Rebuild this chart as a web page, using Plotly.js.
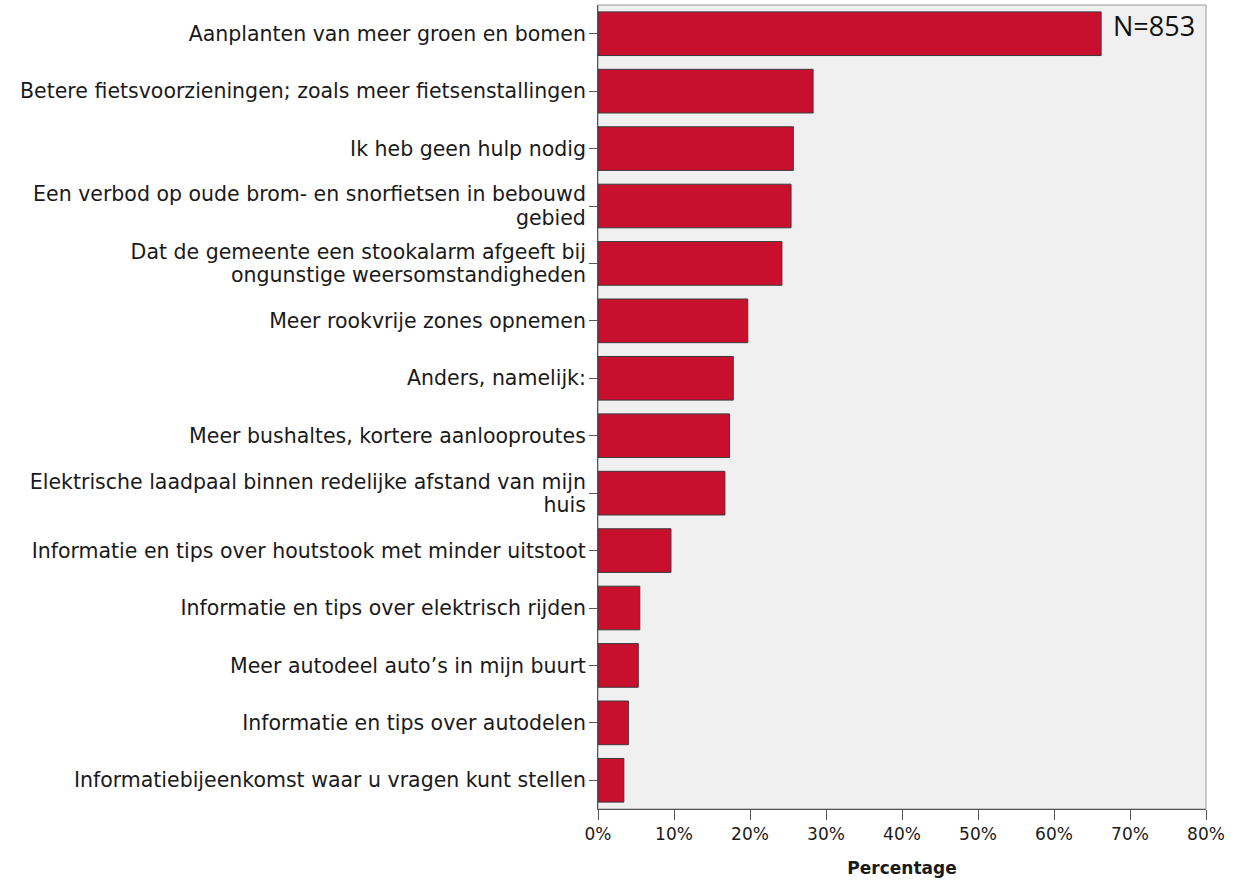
<!DOCTYPE html>
<html>
<head>
<meta charset="utf-8">
<script src="https://cdn.plot.ly/plotly-3.0.1.min.js"></script>
<style>html,body{margin:0;padding:0;background:#fff;}#chart{width:1236px;height:881px;}</style>
</head>
<body>
<div id="chart"></div>
<script>
const categories = [
  "Aanplanten van meer groen en bomen",
  "Betere fietsvoorzieningen; zoals meer fietsenstallingen",
  "Ik heb geen hulp nodig",
  "Een verbod op oude brom- en snorfietsen in bebouwd<br>gebied",
  "Dat de gemeente een stookalarm afgeeft bij<br>ongunstige weersomstandigheden",
  "Meer rookvrije zones opnemen",
  "Anders, namelijk:",
  "Meer bushaltes, kortere aanlooproutes",
  "Elektrische laadpaal binnen redelijke afstand van mijn<br>huis",
  "Informatie en tips over houtstook met minder uitstoot",
  "Informatie en tips over elektrisch rijden",
  "Meer autodeel auto’s in mijn buurt",
  "Informatie en tips over autodelen",
  "Informatiebijeenkomst waar u vragen kunt stellen"
];
const percentages = [66.2, 28.3, 25.7, 25.4, 24.2, 19.7, 17.8, 17.3, 16.7, 9.6, 5.5, 5.3, 4.0, 3.4];
const xTickValues = [0, 10, 20, 30, 40, 50, 60, 70, 80];
const xTickLabels = ["0%", "10%", "20%", "30%", "40%", "50%", "60%", "70%", "80%"];
const noteText = "N=853";

const trace = {
  type: "bar",
  orientation: "h",
  x: percentages,
  y: categories,
  marker: {color: "#C8102E", line: {color: "#3a3a3a", width: 1}},
  hoverinfo: "none"
};

const layout = {
  width: 1236,
  height: 881,
  margin: {l: 598, r: 30, t: 5, b: 72, pad: 0},
  paper_bgcolor: "#ffffff",
  plot_bgcolor: "#F0F0F0",
  bargap: 0.24,
  showlegend: false,
  font: {family: "DejaVu Sans, sans-serif", size: 17, color: "#1a1a1a"},
  xaxis: {
    range: [0, 80],
    tickvals: xTickValues,
    ticktext: xTickLabels,
    ticks: "outside",
    ticklen: 10,
    tickcolor: "#555",
    tickwidth: 1,
    showgrid: false,
    zeroline: false,
    showline: true,
    linecolor: "#555",
    linewidth: 1,
    tickfont: {size: 17, color: "#1a1a1a"},
    title: {text: "<b>Percentage</b>", font: {size: 17, color: "#1a1a1a"}, standoff: 18},
    fixedrange: true
  },
  yaxis: {
    autorange: "reversed",
    ticks: "outside",
    ticklen: 8,
    tickcolor: "#555",
    tickwidth: 1,
    showgrid: false,
    zeroline: false,
    showline: true,
    linecolor: "#555",
    linewidth: 1,
    tickfont: {size: 20.5, color: "#1a1a1a"},
    ticklabelstandoff: -1,
    fixedrange: true
  },
  shapes: [{
    type: "rect", xref: "paper", yref: "paper", x0: 0, x1: 1, y0: 0, y1: 1,
    line: {color: "#999", width: 1}, fillcolor: "rgba(0,0,0,0)", layer: "below"
  }],
  annotations: [{
    text: noteText, xref: "paper", yref: "paper", x: 0.985, y: 0.9995,
    xanchor: "right", yanchor: "top", showarrow: false,
    font: {family: "Open Sans, sans-serif", size: 27, color: "#111"}
  }]
};

const LINE_EM = 1.15;
Plotly.newPlot("chart", [trace], layout, {displayModeBar: false, staticPlot: true}).then(function (gd) {
  // tighten line spacing of the two-line category labels
  gd.querySelectorAll(".ytick text").forEach(function (t) {
    const lines = t.querySelectorAll("tspan.line");
    if (lines.length > 1) {
      for (let i = 1; i < lines.length; i++) lines[i].setAttribute("dy", LINE_EM + "em");
      const tr = t.getAttribute("transform") || "";
      t.setAttribute("transform", tr + " translate(0," + ((1.3 - LINE_EM) / 2 * 20.5 * (lines.length - 1)) + ")");
    }
  });
});
</script>
</body>
</html>
